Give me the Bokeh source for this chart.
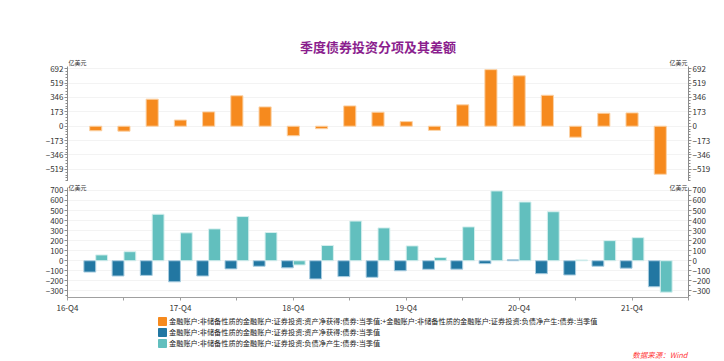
from bokeh.plotting import figure
from bokeh.layouts import column
from bokeh.models import ColumnDataSource, FixedTicker, Range1d, LinearAxis, Legend, LegendItem, Label
from bokeh.transform import dodge
from bokeh.embed import file_html
from bokeh.resources import INLINE

FONT = "Noto Sans CJK SC"

# ---------------- data ----------------
periods = ["17-Q1", "17-Q2", "17-Q3", "17-Q4", "18-Q1", "18-Q2", "18-Q3", "18-Q4",
           "19-Q1", "19-Q2", "19-Q3", "19-Q4", "20-Q1", "20-Q2", "20-Q3", "20-Q4",
           "21-Q1", "21-Q2", "21-Q3", "21-Q4", "22-Q1"]
net_values = [-55, -60, 325, 74, 172, 366, 232, -115, -30, 244, 168, 55, -50, 257, 680, 606, 372, -132, 156, 160, -578]
asset_values = [-113, -152, -146, -210, -152, -81, -55, -71, -181, -158, -165, -100, -85, -84, -29, 10, -129, -142, -55, -74, -259]
liab_values = [58, 90, 463, 278, 317, 440, 281, -42, 152, 395, 327, 148, 32, 337, 695, 585, 488, 8, 200, 230, -313]

tick_positions = [0, 4, 8, 12, 16, 20]
tick_labels = ["16-Q4", "17-Q4", "18-Q4", "19-Q4", "20-Q4", "21-Q4"]
top_ticks = [-519, -346, -173, 0, 173, 346, 519, 692]
bottom_ticks = [-300, -200, -100, 0, 100, 200, 300, 400, 500, 600, 700]

title_text = "季度债券投资分项及其差额"
unit_text = "亿美元"
source_text = "数据来源：Wind"
net_label = "金融账户:非储备性质的金融账户:证券投资:资产净获得:债券:当季值:+金融账户:非储备性质的金融账户:证券投资:负债净产生:债券:当季值"
asset_label = "金融账户:非储备性质的金融账户:证券投资:资产净获得:债券:当季值"
liab_label = "金融账户:非储备性质的金融账户:证券投资:负债净产生:债券:当季值"

ORANGE = "#F68A1E"
DARK = "#2277A2"
TEAL = "#62BFBE"

xs = list(range(1, len(periods) + 1))
src = ColumnDataSource(dict(x=xs, period=periods, net=net_values, asset=asset_values, liab=liab_values))

x_range = Range1d(0, 22)


def style_yaxis(ax, ticks, minor, bounds):
    ax.ticker = FixedTicker(ticks=ticks, minor_ticks=minor)
    ax.bounds = bounds
    ax.major_label_text_font = FONT
    ax.major_label_text_font_size = "8px"
    ax.major_label_text_color = "#333333"
    ax.axis_line_color = "#8c8c8c"
    ax.major_tick_line_color = "#8c8c8c"
    ax.minor_tick_line_color = "#8c8c8c"
    ax.major_tick_in = 0
    ax.major_tick_out = 3
    ax.minor_tick_in = 0
    ax.minor_tick_out = 2
    ax.major_label_standoff = 1


# ---------------- top panel ----------------
p1 = figure(width=716, height=181, x_range=x_range, y_range=Range1d(-665, 814),
            output_backend="svg", toolbar_location=None, x_axis_location=None,
            min_border_left=67, min_border_right=28, min_border_top=58, min_border_bottom=0)
p1.outline_line_color = None
p1.title.text = title_text
p1.title.align = "center"
p1.title.text_color = "#8B1E8E"
p1.title.text_font = FONT
p1.title.text_font_size = "13px"
p1.title.text_font_style = "bold"
p1.title.standoff = 5
p1.xgrid.visible = False
p1.ygrid.ticker = FixedTicker(ticks=top_ticks)
p1.ygrid.grid_line_color = "#f3f3f3"

top_bounds = (-665, 717)
top_minor = [t / 5 * 173 for t in range(-19, 21)]
style_yaxis(p1.yaxis[0], top_ticks, top_minor, top_bounds)
rax1 = LinearAxis()
style_yaxis(rax1, top_ticks, top_minor, top_bounds)
p1.add_layout(rax1, "right")

p1.vbar(x="x", top="net", bottom=0, width=0.43, source=src,
        fill_color=ORANGE, line_color="#FBD2A6", line_width=1)

p1.add_layout(Label(x=0, y=717, text=unit_text, text_font=FONT, text_font_size="6px",
                    text_color="#333333", text_align="left", text_baseline="bottom", x_offset=1))
p1.add_layout(Label(x=22, y=717, text=unit_text, text_font=FONT, text_font_size="6px",
                    text_color="#333333", text_align="right", text_baseline="bottom", x_offset=-1))

# ---------------- bottom panel ----------------
p2 = figure(width=716, height=134, x_range=x_range, y_range=Range1d(-366, 789),
            output_backend="svg", toolbar_location=None,
            min_border_left=67, min_border_right=28, min_border_top=0, min_border_bottom=15)
p2.outline_line_color = None
p2.xgrid.visible = False
p2.ygrid.ticker = FixedTicker(ticks=bottom_ticks)
p2.ygrid.grid_line_color = "#f3f3f3"

bottom_bounds = (-366, 731)
bottom_minor = list(range(-350, 731, 50))
style_yaxis(p2.yaxis[0], bottom_ticks, bottom_minor, bottom_bounds)
rax2 = LinearAxis()
style_yaxis(rax2, bottom_ticks, bottom_minor, bottom_bounds)
p2.add_layout(rax2, "right")

xa = p2.xaxis[0]
xa.ticker = FixedTicker(ticks=list(range(0, 23, 2)))
overrides = {t: "" for t in range(0, 23, 2)}
for pos, lab in zip(tick_positions, tick_labels):
    overrides[pos] = lab
xa.major_label_overrides = overrides
xa.major_label_text_font = FONT
xa.major_label_text_font_size = "8px"
xa.major_label_text_color = "#333333"
xa.axis_line_color = "#a0a0a0"
xa.major_tick_line_color = "#a0a0a0"
xa.major_tick_in = 0
xa.major_tick_out = 3
xa.minor_tick_line_color = None
xa.major_label_standoff = 1

p2.vbar(x=dodge("x", -0.21, range=x_range), top="asset", bottom=0, width=0.42, source=src,
        fill_color=DARK, line_color="#A9CDE0", line_width=1)
p2.vbar(x=dodge("x", 0.21, range=x_range), top="liab", bottom=0, width=0.42, source=src,
        fill_color=TEAL, line_color="#D5EFEE", line_width=1)

p2.add_layout(Label(x=0, y=789, text=unit_text, text_font=FONT, text_font_size="6px",
                    text_color="#333333", text_align="left", text_baseline="top", x_offset=1, y_offset=-1))
p2.add_layout(Label(x=22, y=789, text=unit_text, text_font=FONT, text_font_size="6px",
                    text_color="#333333", text_align="right", text_baseline="top", x_offset=-1, y_offset=-1))

# ---------------- legend / source strip ----------------
p3 = figure(width=716, height=46, x_range=Range1d(0, 1), y_range=Range1d(0, 1),
            output_backend="svg", toolbar_location=None, x_axis_location=None, y_axis_location=None,
            min_border_left=67, min_border_right=0, min_border_top=0, min_border_bottom=0)
p3.outline_line_color = None
p3.grid.visible = False
l_net = p3.vbar(x="x", top="net", width=0.43, source=src, fill_color=ORANGE, line_color=ORANGE, visible=False)
l_asset = p3.vbar(x="x", top="asset", width=0.42, source=src, fill_color=DARK, line_color=DARK, visible=False)
l_liab = p3.vbar(x="x", top="liab", width=0.42, source=src, fill_color=TEAL, line_color=TEAL, visible=False)

legend = Legend(items=[LegendItem(label=net_label, renderers=[l_net]),
                       LegendItem(label=asset_label, renderers=[l_asset]),
                       LegendItem(label=liab_label, renderers=[l_liab])],
                location=(90, 13), padding=0, margin=0, spacing=1,
                glyph_height=10, glyph_width=10, label_height=10, label_standoff=2,
                label_text_font=FONT, label_text_font_size="7.2px", label_text_color="#222222",
                background_fill_alpha=0, border_line_color=None, inactive_fill_alpha=0)
p3.add_layout(legend, "center")

p3.add_layout(Label(x=620, y=7, x_units="screen", y_units="screen", text=source_text,
                    text_font=FONT, text_font_size="7.5px", text_font_style="italic",
                    text_color="#FF3B3B", text_align="right", text_baseline="middle"))

layout = column(p1, p2, p3, spacing=0)
open("out.html", "w").write(file_html(layout, INLINE))
